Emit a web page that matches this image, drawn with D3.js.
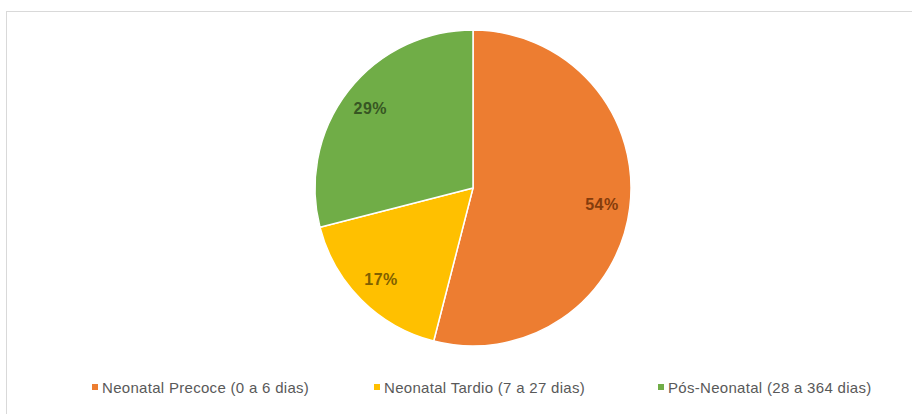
<!DOCTYPE html>
<html>
<head>
<meta charset="utf-8">
<script src="https://cdn.jsdelivr.net/npm/d3@7/dist/d3.min.js"></script>
<style>
  html, body { margin: 0; padding: 0; background: #ffffff; }
  svg { display: block; }
</style>
</head>
<body>
<svg id="chart" width="912" height="414"></svg>
<script>
const categories = ["Neonatal Precoce (0 a 6 dias)", "Neonatal Tardio (7 a 27 dias)", "Pós-Neonatal (28 a 364 dias)"];
const values = [54, 17, 29];
const sliceColors = ["#ED7D31", "#FFC000", "#70AD47"];
const labelColors = ["#843C0C", "#7F6000", "#375623"];
const labelTexts = ["54%", "17%", "29%"];

const W = 912, H = 414;
const svg = d3.select("#chart");

// chart frame (extends beyond the cropped picture)
svg.append("rect")
  .attr("x", 6.5).attr("y", 11.5)
  .attr("width", 1000).attr("height", 600)
  .attr("fill", "#ffffff")
  .attr("stroke", "#d9d9d9").attr("stroke-width", 1);

const cx = 473, cy = 188, R = 158;
const data = categories.map((c, i) => ({ name: c, value: values[i], color: sliceColors[i], lc: labelColors[i], label: labelTexts[i] }));

const pie = d3.pie().value(d => d.value).sort(null);
const arc = d3.arc().innerRadius(0).outerRadius(R);
const labelArc = d3.arc().innerRadius(130).outerRadius(130);

const g = svg.append("g").attr("transform", `translate(${cx},${cy})`);
const arcs = pie(data);

g.selectAll("path.slice").data(arcs).enter().append("path")
  .attr("class", "slice")
  .attr("d", arc)
  .attr("fill", d => d.data.color)
  .attr("stroke", "#ffffff").attr("stroke-width", 1.5)
  .attr("stroke-linejoin", "round");

g.selectAll("text.lbl").data(arcs).enter().append("text")
  .attr("class", "lbl")
  .attr("transform", d => { const c = labelArc.centroid(d); return `translate(${c[0]},${c[1]})`; })
  .attr("text-anchor", "middle")
  .attr("dominant-baseline", "central")
  .attr("font-family", "'Liberation Sans', Arial, sans-serif")
  .attr("font-weight", "bold")
  .attr("font-size", 16)
  .attr("letter-spacing", 0.5)
  .attr("fill", d => d.data.lc)
  .text(d => d.data.label);

// legend
const legendX = [92, 374, 658];
const legendY = 387;
const lg = svg.append("g").attr("class", "legend");
const items = lg.selectAll("g.item").data(data).enter().append("g")
  .attr("class", "item")
  .attr("transform", (d, i) => `translate(${legendX[i]},${legendY})`);
items.append("rect")
  .attr("x", 0).attr("y", -3).attr("width", 6).attr("height", 6)
  .attr("fill", d => d.color);
items.append("text")
  .attr("x", 10).attr("y", 0)
  .attr("dominant-baseline", "central")
  .attr("font-family", "'Liberation Sans', Arial, sans-serif")
  .attr("font-size", 15)
  .attr("letter-spacing", 0.3)
  .attr("fill", "#595959")
  .text(d => d.name);
</script>
</body>
</html>
